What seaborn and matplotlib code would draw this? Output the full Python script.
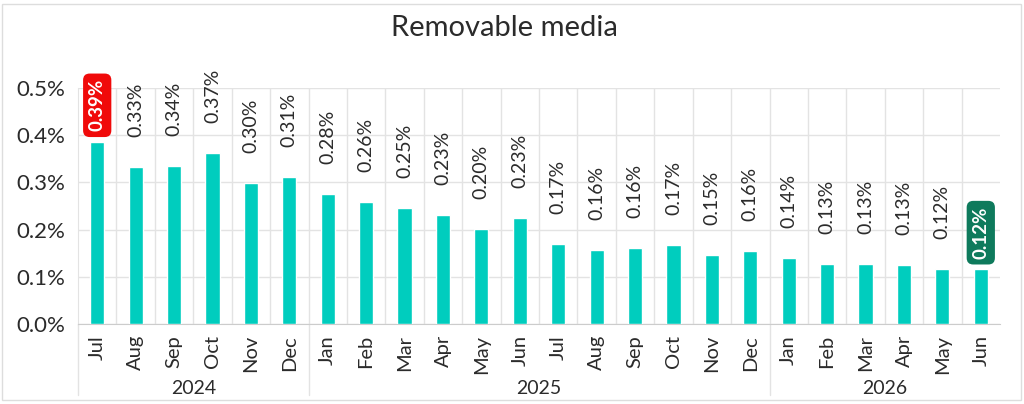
import matplotlib
matplotlib.use("Agg")
import matplotlib.pyplot as plt
from matplotlib.patches import Rectangle
import seaborn as sns
import pandas as pd

# monthly values (%)
months = ["Jul", "Aug", "Sep", "Oct", "Nov", "Dec",
          "Jan", "Feb", "Mar", "Apr", "May", "Jun",
          "Jul", "Aug", "Sep", "Oct", "Nov", "Dec",
          "Jan", "Feb", "Mar", "Apr", "May", "Jun"]
values = [0.386, 0.333, 0.335, 0.363, 0.299, 0.311,
          0.276, 0.258, 0.246, 0.231, 0.201, 0.225,
          0.169, 0.157, 0.162, 0.167, 0.147, 0.155,
          0.140, 0.128, 0.128, 0.126, 0.117, 0.116]
labels = ["0.39%", "0.33%", "0.34%", "0.37%", "0.30%", "0.31%",
          "0.28%", "0.26%", "0.25%", "0.23%", "0.20%", "0.23%",
          "0.17%", "0.16%", "0.16%", "0.17%", "0.15%", "0.16%",
          "0.14%", "0.13%", "0.13%", "0.13%", "0.12%", "0.12%"]
years = ["2024", "2025", "2026"]
year_counts = [6, 12, 6]

BAR = "#00CDBE"
GRID = "#E3E3E3"
TXT = "#2B2B2B"

df = pd.DataFrame({"idx": range(len(values)), "value": values})

sns.set_style("white")
plt.rcParams["font.family"] = ["Lato", "DejaVu Sans"]

fig = plt.figure(figsize=(10.24, 4.04), dpi=100)
ax = fig.add_axes([78 / 1024, 80 / 404, 922 / 1024, 236 / 404])

sns.barplot(data=df, x="idx", y="value", color=BAR, width=0.37,
            saturation=1, ax=ax, zorder=3)

ax.set_xlim(-0.5, len(values) - 0.5)
ax.set_ylim(0, 0.5)
ax.set_yticks([0, 0.1, 0.2, 0.3, 0.4, 0.5])
ax.set_yticklabels(["0.0%", "0.1%", "0.2%", "0.3%", "0.4%", "0.5%"],
                   fontsize=16, color=TXT)
ax.set_xticks(range(len(values)))
ax.set_xticklabels(months, rotation=90, fontsize=14.5, color=TXT)
ax.set_xticks([i + 0.5 for i in range(len(values) - 1)], minor=True)
ax.tick_params(axis="x", which="major", length=5, color=GRID, pad=3)
ax.tick_params(axis="x", which="minor", length=0)
ax.tick_params(axis="y", length=6, color=GRID, pad=3)
ax.set_xlabel("")
ax.set_ylabel("")

ax.grid(axis="y", which="major", color=GRID, lw=1, zorder=0)
ax.grid(axis="x", which="minor", color=GRID, lw=1, zorder=0)
ax.set_axisbelow(True)
for side in ["top", "right"]:
    ax.spines[side].set_visible(False)
ax.spines["left"].set_color(GRID)
ax.spines["bottom"].set_color("#CCCCCC")

# year separators and year labels
start = -0.5
for yr, n in zip(years, year_counts):
    ax.axvline(start, ymin=-0.30, ymax=0, color=GRID, lw=1, clip_on=False)
    ax.text(start + n / 2, -0.272, yr, transform=ax.get_xaxis_transform(),
            ha="center", va="center", fontsize=14, color=TXT)
    start += n

# value labels
last = len(values) - 1
for i, (v, lab) in enumerate(zip(values, labels)):
    if i == 0 or i == last:
        fc = "#F00A0A" if i == 0 else "#0E7A5C"
        ax.text(i, v + 0.022, lab, rotation=90, ha="center", va="bottom",
                fontsize=13.5, color="white", fontweight="bold", clip_on=False,
                bbox=dict(boxstyle="round,pad=0.3,rounding_size=0.35",
                          fc=fc, ec="none"))
    else:
        ax.text(i, v + 0.063, lab, rotation=90, ha="center", va="bottom",
                fontsize=14, color=TXT, clip_on=False)

fig.text(0.493, 0.93, "Removable media", ha="center", va="center",
         fontsize=21, color=TXT)

fig.patches.append(Rectangle((2 / 1024, 4 / 404), 1019 / 1024, 396 / 404,
                             transform=fig.transFigure, fill=False,
                             ec="#DDDDDD", lw=1))

fig.savefig("out.png", dpi=100)
